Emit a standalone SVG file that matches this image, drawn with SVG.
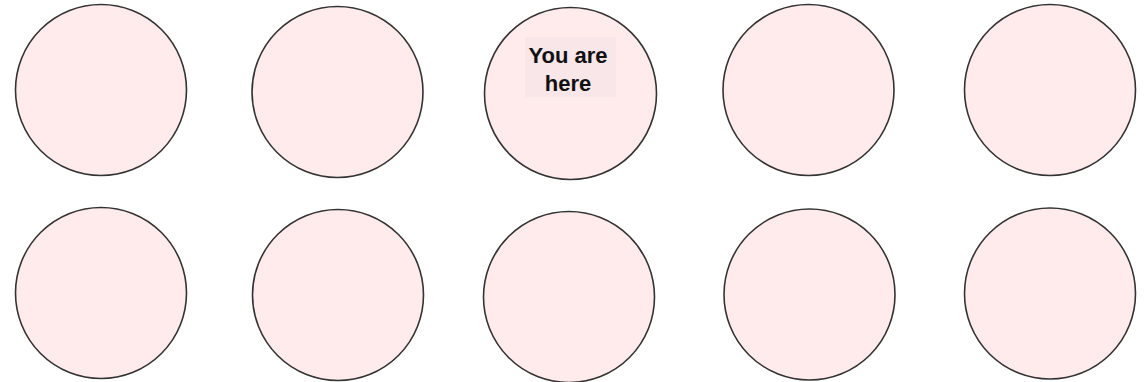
<svg xmlns="http://www.w3.org/2000/svg" width="1145" height="382" viewBox="0 0 1145 382">
<style>
.n{fill:#ffebec;stroke:#333;stroke-width:1.6}
.lb{fill:#f9e6e8}
.t{font-family:"Liberation Sans",Arial,sans-serif;font-size:22px;font-weight:bold;fill:#111;text-anchor:middle}
</style>
<rect width="1145" height="382" fill="#fff"/>
<g id="n1"><circle class="n" cx="101" cy="90" r="85.5"/></g>
<g id="n2"><circle class="n" cx="337.5" cy="92" r="85.5"/></g>
<g id="n3"><circle class="n" cx="570.5" cy="93.5" r="86"/>
<rect class="lb" x="525" y="37" width="91" height="60"/>
<text class="t" x="568" y="63">You are</text>
<text class="t" x="568" y="91">here</text></g>
<g id="n4"><circle class="n" cx="808.5" cy="90" r="85.5"/></g>
<g id="n5"><circle class="n" cx="1050" cy="90" r="85.5"/></g>
<g id="n6"><circle class="n" cx="101" cy="293" r="85.5"/></g>
<g id="n7"><circle class="n" cx="338" cy="295" r="85.5"/></g>
<g id="n8"><circle class="n" cx="569" cy="297" r="85.5"/></g>
<g id="n9"><circle class="n" cx="809.5" cy="294.5" r="85.5"/></g>
<g id="n10"><circle class="n" cx="1050" cy="293.5" r="85.5"/></g>
<g id="connectors"></g>
</svg>
